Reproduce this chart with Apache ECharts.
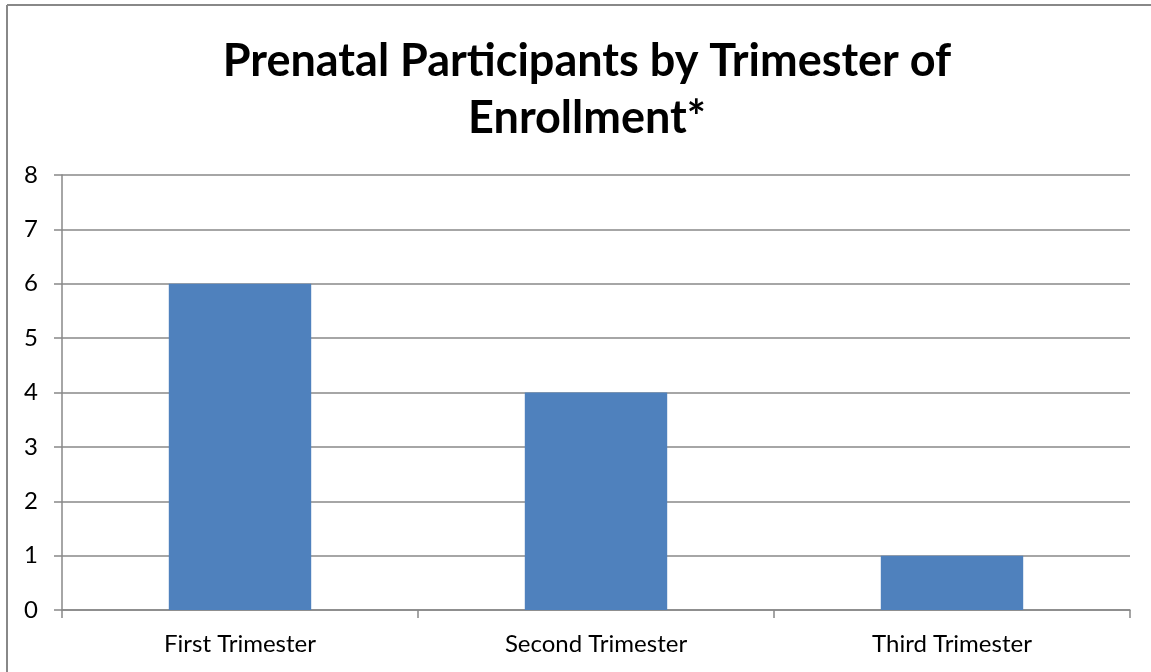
<!DOCTYPE html>
<html><head><meta charset="utf-8">
<script src="https://cdn.jsdelivr.net/npm/echarts@6/dist/echarts.min.js"></script>
<style>html,body{margin:0;padding:0;background:#fff}#c{width:1151px;height:672px}</style>
</head><body><div id="c"></div>
<script>
const categories = ['First Trimester', 'Second Trimester', 'Third Trimester'];
const values = [6, 4, 1];
const titleText = 'Prenatal Participants by Trimester of\nEnrollment*';

const chart = echarts.init(document.getElementById('c'));
chart.setOption({
  animation: false,
  backgroundColor: '#fff',
  graphic: [
    {type: 'line', shape: {x1: 7, y1: 5, x2: 7, y2: 672}, style: {stroke: '#888', lineWidth: 2}},
    {type: 'line', shape: {x1: 7, y1: 5, x2: 1151, y2: 5}, style: {stroke: '#888', lineWidth: 2}}
  ],
  title: {
    text: titleText,
    left: 582, top: 28, textAlign: 'center',
    textStyle: {fontFamily: 'Lato', fontWeight: 'bold', fontSize: 45, color: '#000', lineHeight: 57}
  },
  grid: {left: 62, right: 21, top: 175, bottom: 62, containLabel: false},
  xAxis: {
    type: 'category', data: categories,
    axisLine: {lineStyle: {color: '#888', width: 1.5}},
    axisTick: {show: true, length: 8, lineStyle: {color: '#888', width: 1.5}},
    axisLabel: {fontFamily: 'Lato', fontSize: 24, color: '#000', margin: 22}
  },
  yAxis: {
    type: 'value', min: 0, max: 8, interval: 1,
    axisLine: {show: true, lineStyle: {color: '#888', width: 1.5}},
    axisTick: {show: true, length: 8, lineStyle: {color: '#888', width: 1.5}},
    splitLine: {lineStyle: {color: '#888', width: 1.5}},
    axisLabel: {fontFamily: 'Lato', fontSize: 24, color: '#000', margin: 24}
  },
  series: [{
    type: 'bar', data: values, barWidth: '40%',
    itemStyle: {color: '#4f81bd'}
  }]
});
</script></body></html>
